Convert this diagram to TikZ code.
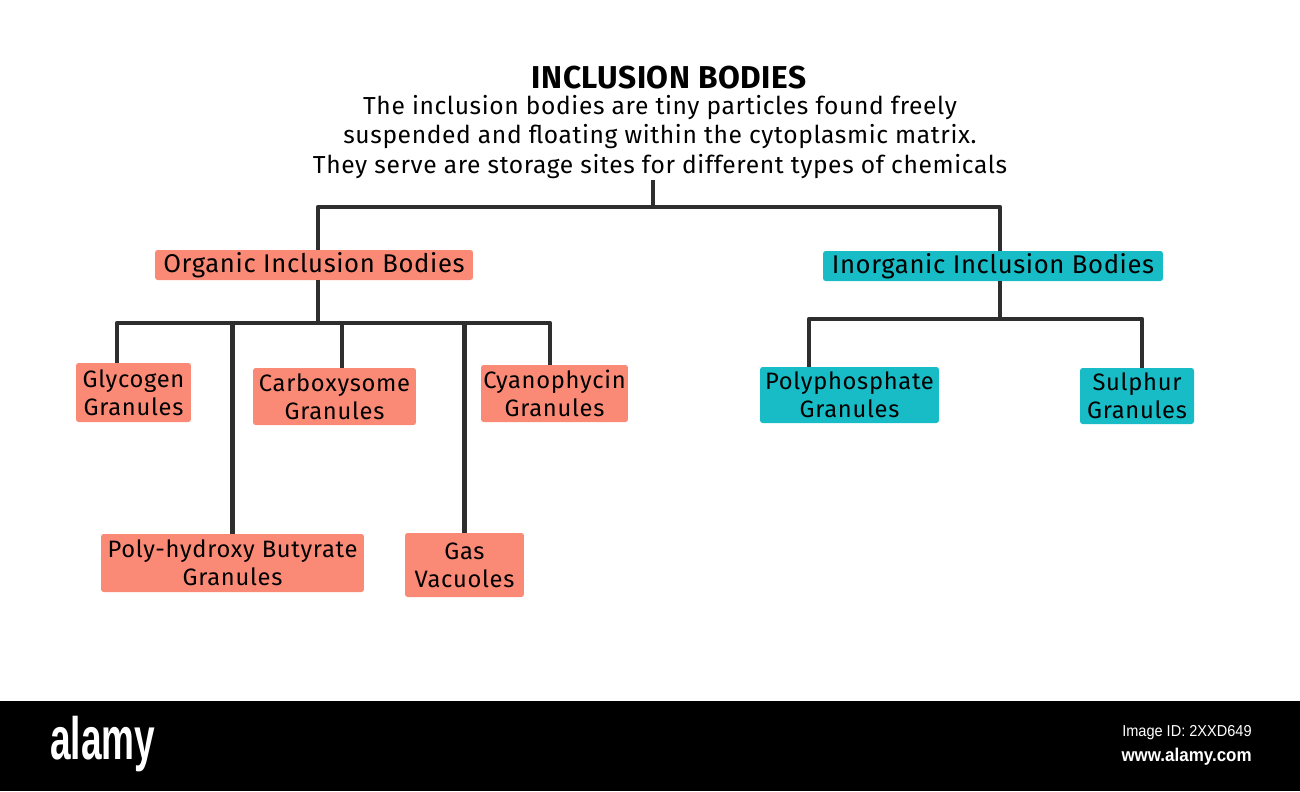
\documentclass[tikz,border=0pt]{standalone}
\usepackage{fontspec}
\setmainfont{Fira Sans}
\newfontfamily\markfont{Liberation Sans}

\definecolor{organic}{HTML}{FA8A76}
\definecolor{inorganic}{HTML}{17BCC6}
\definecolor{linegray}{HTML}{2E2E2E}

\begin{document}
\begin{tikzpicture}[x=0.02cm,y=-0.02cm,
  link/.style={draw=linegray,line width=2.7pt,line join=round},
  box/.style={rounded corners=1.5pt,align=center,inner sep=0pt,text=black,
    font=\fontsize{13.5}{16}\selectfont\addfontfeature{LetterSpace=3}},
  orgbox/.style={box,fill=organic},
  inorgbox/.style={box,fill=inorganic},
  groupfont/.style={font=\fontsize{14.6}{16}\selectfont\addfontfeature{LetterSpace=2.5}}]
  \useasboundingbox (0,0) rectangle (1300,791);
  \fill[white] (0,0) rectangle (1300,701);
  \fill[black] (0,701) rectangle (1300,791);

  % heading
  \node [font=\bfseries\fontsize{18}{20}\selectfont\addfontfeature{LetterSpace=1.5}] (title) at (669,78) {INCLUSION BODIES};
  \node [align=center,inner sep=1pt,font=\fontsize{14}{16.6}\selectfont\addfontfeature{LetterSpace=2.5}] (desc) at (660,137)
    {The inclusion bodies are tiny particles found freely\\
     suspended and floating within the cytoplasmic matrix.\\
     They serve are storage sites for different types of chemicals};

  % main groups
  \node [orgbox,groupfont,minimum width=6.36cm,minimum height=0.6cm] (org) at (314,265) {Organic Inclusion Bodies};
  \node [inorgbox,groupfont,minimum width=6.8cm,minimum height=0.6cm] (inorg) at (993,266) {Inorganic Inclusion Bodies};

  % organic kinds
  \node [orgbox,minimum width=2.3cm,minimum height=1.18cm] (gly) at (133.5,392.5) {Glycogen\\Granules};
  \node [orgbox,minimum width=3.26cm,minimum height=1.14cm] (carb) at (334.5,396.5) {Carboxysome\\Granules};
  \node [orgbox,minimum width=2.94cm,minimum height=1.14cm] (cya) at (554.5,393.5) {Cyanophycin\\Granules};
  \node [orgbox,minimum width=5.26cm,minimum height=1.16cm] (phb) at (232.5,563) {Poly-hydroxy Butyrate\\Granules};
  \node [orgbox,minimum width=2.38cm,minimum height=1.28cm] (gas) at (464.5,565) {Gas\\Vacuoles};

  % inorganic kinds
  \node [inorgbox,minimum width=3.58cm,minimum height=1.12cm] (poly) at (849.5,395) {Polyphosphate\\Granules};
  \node [inorgbox,minimum width=2.28cm,minimum height=1.12cm] (sul) at (1137,396) {Sulphur\\Granules};

  % connectors
  \coordinate (tm) at (653,207);
  \coordinate (tl) at (318,207);
  \coordinate (tr) at (1000,207);
  \draw [link] (tm |- desc.south) -- (tm);
  \draw [link] (tl |- org.north) -- (tl) -- (tr) -- (tr |- inorg.north);

  \coordinate (ob) at (318,323);
  \coordinate (obl) at (117,323);
  \coordinate (obr) at (550,323);
  \coordinate (ob3) at (342,323);
  \draw [link] (ob |- org.south) -- (ob);
  \draw [link] (obl |- gly.north) -- (obl) -- (obr) -- (obr |- cya.north);
  \draw [link] (ob3) -- (ob3 |- carb.north);
  \draw [link] (phb.north) -- (phb.north |- ob);
  \draw [link] (gas.north) -- (gas.north |- ob);

  \coordinate (ib) at (1000,319);
  \coordinate (ibl) at (809,319);
  \coordinate (ibr) at (1142,319);
  \draw [link] (ib |- inorg.south) -- (ib);
  \draw [link] (ibl |- poly.north) -- (ibl) -- (ibr) -- (ibr |- sul.north);

  % stock bar
  \node [text=white,font=\markfont\bfseries\fontsize{34}{34}\selectfont,anchor=west,inner sep=0pt] (brand) at (50,744) {\scalebox{0.62}[1]{alamy}};
  \node [text=white,font=\markfont\fontsize{9}{10}\selectfont,anchor=east,inner sep=0pt] (imgid) at (1252,733) {\scalebox{0.92}[1]{Image ID: 2XXD649}};
  \node [text=white,font=\markfont\bfseries\fontsize{10.5}{12}\selectfont,anchor=east,inner sep=0pt] (site) at (1252,757) {\scalebox{0.92}[1]{www.alamy.com}};
\end{tikzpicture}
\end{document}
